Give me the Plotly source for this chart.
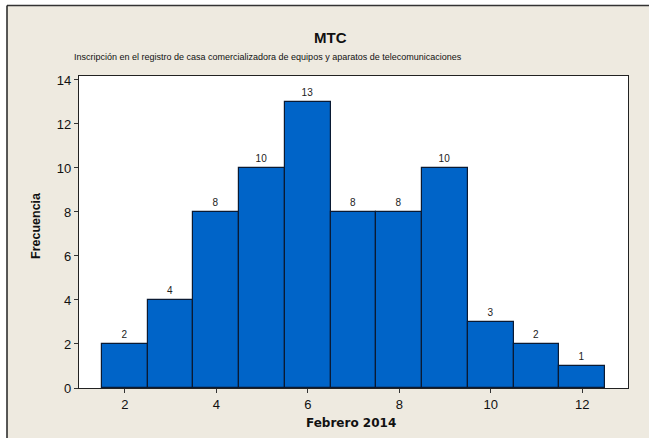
import plotly.graph_objects as go

categories = [2, 3, 4, 5, 6, 7, 8, 9, 10, 11, 12]
frequencies = [2, 4, 8, 10, 13, 8, 8, 10, 3, 2, 1]
x_ticks = [2, 4, 6, 8, 10, 12]
y_ticks = [0, 2, 4, 6, 8, 10, 12, 14]

W, H = 649, 438
L, R, T, B = 79, 21, 76, 50
pw, ph = W - L - R, H - T - B

def px(xp):
    return (xp - L) / pw

def py(yp):
    return (H - B - yp) / ph

FONT = "Liberation Sans"
BEIGE = "#EEEAE0"

fig = go.Figure()
fig.add_trace(go.Bar(
    x=categories, y=frequencies, width=1.0,
    marker=dict(color="#0064C8", line=dict(color="#0A1A33", width=1.2)),
    text=[str(v) for v in frequencies], textposition="outside",
    textfont=dict(family=FONT, size=10, color="#222222"),
    cliponaxis=False, hoverinfo="skip",
))

# white strips outside the frame (top and left)
fig.add_shape(type="rect", xref="paper", yref="paper",
              x0=px(-5), x1=px(660), y0=py(5.5), y1=py(-5),
              fillcolor="white", line=dict(width=0), layer="below")
fig.add_shape(type="rect", xref="paper", yref="paper",
              x0=px(-5), x1=px(7), y0=py(445), y1=py(-5),
              fillcolor="white", line=dict(width=0), layer="below")
# frame lines
fig.add_shape(type="line", xref="paper", yref="paper",
              x0=px(7), x1=px(660), y0=py(5.5), y1=py(5.5),
              line=dict(color="#333333", width=1.5))
fig.add_shape(type="line", xref="paper", yref="paper",
              x0=px(7), x1=px(7), y0=py(5.5), y1=py(445),
              line=dict(color="#222222", width=1.5))

fig.update_layout(
    width=W, height=H,
    margin=dict(l=L, r=R, t=T, b=B),
    paper_bgcolor=BEIGE, plot_bgcolor="white",
    showlegend=False,
    font=dict(family=FONT, color="#111111"),
    annotations=[
        dict(text="<b>MTC</b>", x=px(330), y=py(37), xref="paper", yref="paper",
             showarrow=False, font=dict(family=FONT, size=15, color="#111111"), xanchor="center", yanchor="middle"),
        dict(text="Inscripción en el registro de casa comercializadora de equipos y aparatos de telecomunicaciones",
             x=px(268), y=py(57), xref="paper", yref="paper", showarrow=False,
             font=dict(family=FONT, size=9, color="#111111"), xanchor="center", yanchor="middle"),
        dict(text="<b>Frecuencia</b>", x=px(36), y=py(226), xref="paper", yref="paper", showarrow=False,
             textangle=-90, font=dict(family=FONT, size=12.5, color="#111111"), xanchor="center", yanchor="middle"),
        dict(text="<b>Febrero 2014</b>", x=px(351), y=py(423), xref="paper", yref="paper", showarrow=False,
             font=dict(family="DejaVu Sans", size=12, color="#111111"), xanchor="center", yanchor="middle"),
    ],
    xaxis=dict(range=[1.0, 13.0], tickvals=x_ticks, ticks="outside", ticklen=4, tickcolor="#333333",
               showline=True, linecolor="#222222", linewidth=1.2, mirror=True, showgrid=False, zeroline=False,
               tickfont=dict(family=FONT, size=13, color="#111111"), automargin=False),
    yaxis=dict(range=[0, 14.18], tickvals=y_ticks, ticks="outside", ticklen=4, tickcolor="#333333",
               showline=True, linecolor="#222222", linewidth=1.2, mirror=True, showgrid=False, zeroline=False,
               tickfont=dict(family=FONT, size=13, color="#111111"), automargin=False),
    bargap=0,
)

fig.write_html("out.html", config={"displayModeBar": False},
               post_script="document.body.style.margin='0';document.body.style.padding='0';")
